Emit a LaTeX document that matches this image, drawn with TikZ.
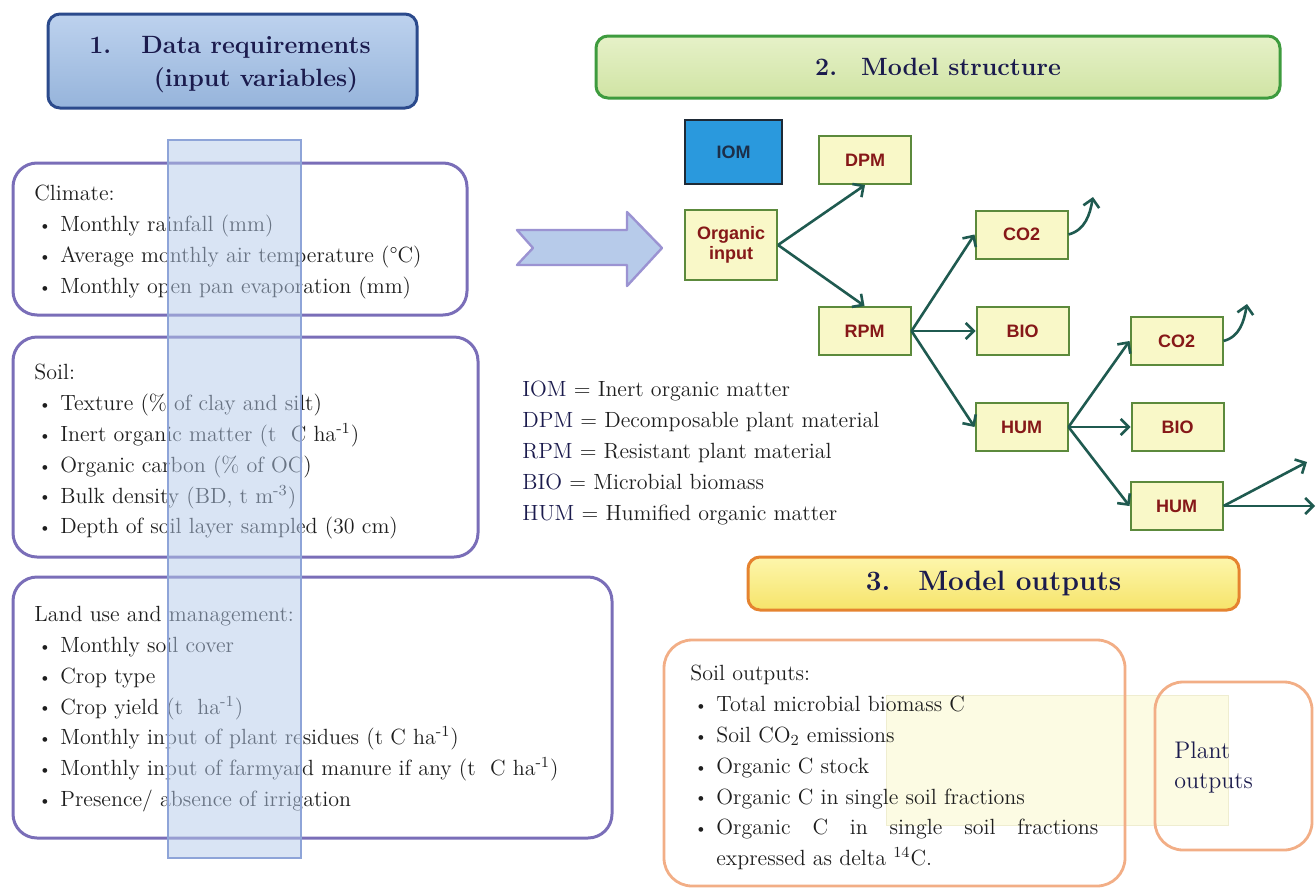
\documentclass[tikz,border=0pt]{standalone}
\usepackage{fontspec}
\newfontfamily\boxfont{Liberation Sans}
\usepackage{xcolor}
\usetikzlibrary{positioning, arrows.meta}

\definecolor{navy}{HTML}{1B1B4D}
\definecolor{bodyink}{HTML}{1E1E1E}
\definecolor{headtop}{HTML}{BDD2EE}
\definecolor{headbot}{HTML}{96B4DB}
\definecolor{headline}{HTML}{2B4A8C}
\definecolor{inlilac}{HTML}{7A6EB8}
\definecolor{barfill}{HTML}{B4CAEA}
\definecolor{barline}{HTML}{8EA4D8}
\definecolor{greentop}{HTML}{E6F1C8}
\definecolor{greenbot}{HTML}{D0E4A4}
\definecolor{greenline}{HTML}{3E9B3E}
\definecolor{poolfill}{HTML}{F9F8C8}
\definecolor{poolline}{HTML}{5C8A3C}
\definecolor{poolred}{HTML}{861818}
\definecolor{iomblue}{HTML}{2A99DD}
\definecolor{iomline}{HTML}{1E2A36}
\definecolor{iomtext}{HTML}{1C2E48}
\definecolor{flowteal}{HTML}{1F5A50}
\definecolor{bigfill}{HTML}{B7CBEA}
\definecolor{bigline}{HTML}{9B93D2}
\definecolor{yeltop}{HTML}{FDF6AC}
\definecolor{yelbot}{HTML}{F6E46A}
\definecolor{orangeline}{HTML}{E5832F}
\definecolor{outline}{HTML}{F2AE86}
\definecolor{paleyel}{HTML}{FCFBE3}
\definecolor{paleline}{HTML}{EFEDD0}

\newcommand{\itm}{\makebox[13pt][l]{\hspace{2pt}\raisebox{0.6pt}{\footnotesize\textbullet}}}

\tikzset{
    headbox/.style={rectangle, rounded corners=6pt, line width=1.5pt, text=navy, align=center, font=\fontsize{12.5}{16.5}\selectfont\bfseries},
    inbox/.style={draw=inlilac, line width=1.5pt, rounded corners=12pt},
    outbox/.style={draw=outline, line width=1.4pt, rounded corners=14pt},
    listtext/.style={anchor=north west, inner sep=0pt, align=left, text=bodyink, font=\fontsize{11}{15.4}\selectfont},
    pool/.style={rectangle, draw=poolline, fill=poolfill, line width=1pt, minimum width=46pt, minimum height=24pt, align=center, text=poolred, font=\boxfont\fontsize{9}{10}\selectfont\bfseries},
    flow/.style={draw=flowteal, line width=1.3pt, -{Straight Barb[length=4pt,width=8pt]}}
}

\begin{document}
\begin{tikzpicture}[x=0.5pt, y=-0.5pt]
    \useasboundingbox (0,0) rectangle (1316,889);

    % 1. inputs
    \draw[headbox, draw=headline, top color=headtop, bottom color=headbot] (48,14) rectangle (417,108);
    \node (datareq) [headbox] at (230,65) {1.\hspace{15pt}Data requirements\\\hspace*{26pt}(input variables)};

    \draw[inbox] (13,163) rectangle (467,315);
    \node (climate) [listtext] at (34,185) {Climate:\\
        \itm Monthly rainfall (mm)\\
        \itm Average monthly air temperature (\textdegree C)\\
        \itm Monthly open pan evaporation (mm)};

    \draw[inbox] (13,337) rectangle (478,557);
    \node (soil) [listtext] at (34,364) {Soil:\\
        \itm Texture (\% of clay and silt)\\
        \itm Inert organic matter (t~~C~ha\textsuperscript{-1})\\
        \itm Organic carbon (\% of OC)\\
        \itm Bulk density (BD, t~m\textsuperscript{-3})\\
        \itm Depth of soil layer sampled (30~cm)};

    \draw[inbox] (13,577) rectangle (612,838);
    \node (landuse) [listtext] at (34,606) {Land use and management:\\
        \itm Monthly soil cover\\
        \itm Crop type\\
        \itm Crop yield (t~~ha\textsuperscript{-1})\\
        \itm Monthly input of plant residues (t~C~ha\textsuperscript{-1})\\
        \itm Monthly input of farmyard manure if any (t~~C~ha\textsuperscript{-1})\\
        \itm Presence/~absence of irrigation};

    \draw[draw=barline, line width=0.8pt, fill=barfill, fill opacity=0.5] (168,140) rectangle (301,858);

    % block arrow
    \draw[draw=bigline, line width=1.2pt, fill=bigfill, line join=round] (517,230) -- (627,230) -- (627,212) -- (662,248) -- (627,286) -- (627,265) -- (517,265) -- (533,248) -- cycle;

    % 2. model structure
    \node (modstruct) [headbox, draw=greenline, top color=greentop, bottom color=greenbot, minimum width=342pt, minimum height=31pt] at (938,67) {2.\hspace{12pt}Model structure};

    \node (iom) [pool, fill=iomblue, draw=iomline, text=iomtext, minimum width=48.5pt, minimum height=32pt] at (733.5,152) {IOM};
    \node (dpm) [pool] at (865,160) {DPM};
    \node (org) [pool, minimum height=35pt] at (731,245) {Organic\\input};
    \node (co2a) [pool] at (1021.5,234.5) {CO2};
    \node (rpm) [pool] at (864.5,331) {RPM};
    \node (bioa) [pool, right=32pt of rpm] {BIO};
    \node (huma) [pool] at (1021.5,427) {HUM};
    \node (co2b) [pool] at (1176.5,341) {CO2};
    \node (biob) [pool, right=31pt of huma] {BIO};
    \node (humb) [pool] at (1176.5,506) {HUM};

    \coordinate (co2aout) at (1093,197);
    \coordinate (co2bout) at (1247,304);
    \coordinate (humbup) at (1307,462);
    \coordinate (humbright) at (1315,506);

    \draw[flow] (org.east) -- (dpm.south);
    \draw[flow] (org.east) -- (rpm.north);
    \draw[flow] (rpm.east) -- (co2a.west);
    \draw[flow] (rpm.east) -- (bioa.west);
    \draw[flow] (rpm.east) -- (huma.west);
    \draw[flow] (huma.east) -- (co2b.west);
    \draw[flow] (huma.east) -- (biob.west);
    \draw[flow] (huma.east) -- (humb.west);
    \draw[flow] (co2a.east) to[out=15, in=-100] (co2aout);
    \draw[flow] (co2b.east) to[out=15, in=-100] (co2bout);
    \draw[flow] (humb.east) -- (humbup);
    \draw[flow] (humb.east) -- (humbright);

    \node (legend) [listtext] at (522,381) {\textcolor{navy}{IOM} = Inert organic matter\\
        \textcolor{navy}{DPM} = Decomposable plant material\\
        \textcolor{navy}{RPM} = Resistant plant material\\
        \textcolor{navy}{BIO} = Microbial biomass\\
        \textcolor{navy}{HUM} = Humified organic matter};

    % 3. outputs
    \node (modout) [headbox, draw=orangeline, top color=yeltop, bottom color=yelbot, minimum width=245.5pt, minimum height=26.5pt, font=\fontsize{14}{17}\selectfont\bfseries] at (993.5,583.5) {3.\hspace{14pt}Model outputs};

    \fill[paleyel, draw=paleline] (886,695) rectangle (1228,825);
    \draw[outbox] (664,640) rectangle (1125,886);
    \draw[outbox] (1155,682) rectangle (1312,850);

    \node (soilout) [listtext] at (690,665) {Soil outputs:\\
        \itm Total microbial biomass C\\
        \itm Soil CO\textsubscript{2} emissions\\
        \itm Organic C stock\\
        \itm Organic C in single soil fractions\\
        \itm \makebox[191pt][s]{Organic C in single soil fractions}\\
        \hspace*{13pt}expressed as delta \textsuperscript{14}C.};

    \node (plantout) [listtext, text=navy, font=\fontsize{12}{15}\selectfont] at (1174,741) {Plant\\outputs};
\end{tikzpicture}
\end{document}
